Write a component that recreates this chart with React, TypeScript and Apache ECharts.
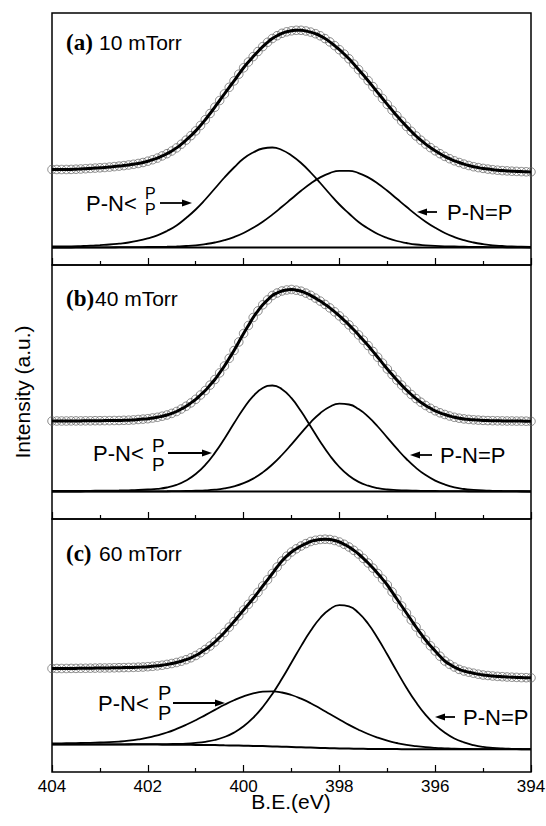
import React, { useEffect, useRef } from "react";
import * as echarts from "echarts";

// Binding energy grids (eV), high to low as plotted
const ENERGY_FINE = Array.from({ length: 101 }, (_, k) => +(404 - k * 0.1).toFixed(1));
const ENERGY = Array.from({ length: 51 }, (_, k) => +(404 - k * 0.2).toFixed(1));
const ENERGY_ENDS = [404, 394];

const X_TICKS = [404, 402, 400, 398, 396, 394];

// Panel (a) 10 mTorr
const ENV_A = [
  78, 78, 78, 78, 78.1, 78.3, 78.5, 78.8, 79.1, 79.4,
  79.7, 80, 80.4, 80.9, 81.4, 81.9, 82.5, 83.2, 84, 85,
  86.3, 87.8, 89.4, 91.6, 93.8, 96.5, 99.6, 103.3, 107.4, 111.8,
  116.6, 122, 127.8, 134, 140.3, 147, 153.6, 160.2, 166.6, 173.3,
  179.7, 185.5, 190.9, 196, 200.9, 205.2, 209, 211.8, 214.2, 215.7,
  216.7, 217.2, 217.2, 216.5, 215.4, 213.8, 211.7, 208.9, 205.6, 201.9,
  197.8, 193.4, 188.7, 183.4, 177.9, 172.4, 166.8, 160.9, 154.9, 149,
  143.1, 137.4, 131.7, 126.3, 121.1, 116.2, 111.5, 107.3, 103.4, 99.9,
  96.7, 93.8, 91.1, 88.8, 86.7, 85, 83.4, 82, 80.8, 79.9,
  79.1, 78.4, 77.8, 77.3, 76.9, 76.6, 76.3, 76.1, 75.9, 75.7,
  75.6,
];
const COMP_A1 = [
  1, 1, 1.1, 1.4, 1.8, 2.4, 3, 3.9, 5, 6.8,
  9.2, 12.2, 16.5, 22, 29.5, 38, 48, 59, 70, 80,
  89, 95, 99, 100, 97.5, 92, 84.5, 75, 64.5, 53.5,
  43, 34, 25.5, 19, 13.5, 9.5, 6.5, 4.5, 3, 2.2,
  1.6, 1.2, 1, 0.8, 0.6, 0.5, 0.4, 0.3, 0.2, 0.1,
  0,
];
const COMP_A2 = [
  0, 0, 0, 0.1, 0.1, 0.2, 0.2, 0.3, 0.4, 0.45,
  0.5, 0.6, 0.8, 1.1, 1.5, 2.2, 3.4, 5, 7.3, 10.4,
  14.5, 19.7, 25.8, 32.9, 40.7, 48.7, 56.7, 64, 70.1, 74.4,
  76.7, 76.7, 74.4, 70.1, 64, 56.7, 48.7, 40.7, 32.9, 25.8,
  19.7, 14.5, 10.4, 7.3, 5, 3.4, 2.2, 1.5, 1, 0.8,
  0.6,
];
const BASE_A = [0, 0];

// Panel (b) 40 mTorr
const ENV_B = [
  70.5, 70.5, 70.5, 70.5, 70.6, 70.6, 70.6, 70.7, 70.7, 70.8,
  70.8, 70.9, 70.9, 71, 71, 71.2, 71.3, 71.6, 72, 72.4,
  72.8, 73.5, 74.2, 75.3, 76.5, 78.1, 80, 82.5, 85.3, 88.6,
  92.2, 96.5, 101, 106.4, 112, 118.6, 125.5, 133.2, 141, 149.5,
  158, 166, 174, 180.6, 186.7, 191.6, 196, 198.5, 200.5, 201.5,
  202, 201.3, 200.3, 198.4, 196.2, 193.4, 190.4, 187.1, 183.6, 179.7,
  175.6, 171.2, 166.6, 161.7, 156.6, 151.3, 145.9, 140.1, 134.3, 128.4,
  122.5, 116.9, 111.5, 106.4, 101.5, 97, 92.9, 89.3, 86, 83.2,
  80.7, 78.7, 77, 75.5, 74.2, 73.3, 72.6, 72.1, 71.7, 71.4,
  71.1, 70.9, 70.8, 70.7, 70.6, 70.5, 70.5, 70.4, 70.4, 70.3,
  70.2,
];
const COMP_B1 = [
  0.5, 0.5, 0.6, 0.6, 0.7, 0.8, 0.9, 1, 1.2, 1.5,
  2, 2.7, 4, 6.6, 11, 17.5, 26.6, 38.6, 52.8, 68.2,
  83, 95.4, 103.5, 106, 102.3, 93.3, 80.2, 65.1, 49.8, 36,
  24.5, 15.8, 9.6, 5.8, 3.4, 2, 1.4, 1, 0.8, 0.6,
  0.5, 0.4, 0.3, 0.3, 0.2, 0.2, 0.1, 0.1, 0.1, 0,
  0,
];
const COMP_B2 = [
  0, 0, 0, 0, 0.1, 0.1, 0.1, 0.1, 0.1, 0.1,
  0.1, 0.2, 0.25, 0.35, 0.5, 0.8, 1.1, 1.8, 3.1, 5.2,
  8.4, 12.9, 19.1, 27, 36.5, 47.2, 58.4, 69.2, 78.3, 84.8,
  87.8, 87, 82.5, 74.9, 65, 53.9, 42.8, 32.5, 23.6, 16.4,
  10.9, 7, 4.2, 2.5, 1.6, 1, 0.7, 0.5, 0.4, 0.3,
  0.2,
];
const BASE_B = [0, 0];

// Panel (c) 60 mTorr
const ENV_C = [
  78.5, 78.5, 78.5, 78.5, 78.6, 78.6, 78.7, 78.7, 78.8, 78.9,
  79, 79, 79.1, 79.2, 79.3, 79.4, 79.5, 79.6, 79.8, 80,
  80.3, 80.7, 81.2, 81.8, 82.6, 83.5, 84.5, 85.8, 87.3, 89.2,
  91.5, 94.3, 97.5, 101, 105, 109.6, 114.5, 119.9, 125.5, 131.2,
  137, 142.7, 148.5, 154.7, 161, 167.2, 173.5, 180, 186, 190.8,
  195, 198.2, 201, 203.4, 205.5, 206.7, 207.5, 207.8, 207.5, 206.5,
  205, 202.7, 200, 196.7, 193, 188.6, 184, 178.9, 173.5, 167.9,
  162, 155.1, 148, 141, 134, 127, 120, 113.4, 107, 101.2,
  96, 90.8, 86, 82.7, 80, 77.6, 76, 74.8, 73.8, 72.8,
  72, 71.5, 71, 70.6, 70.3, 70, 69.8, 69.6, 69.4, 69.3,
  69.2,
];
const COMP_C1 = [
  3.6, 3.7, 3.8, 4, 4.2, 4.5, 4.8, 5.4, 6.3, 7.6,
  9.3, 11.7, 14.5, 18.1, 22.2, 26.8, 31.9, 37.1, 42.2, 46.8,
  50.7, 53.6, 55.3, 55.6, 54.5, 52, 48.3, 43.8, 38.5, 33,
  27.5, 22.1, 17.3, 13, 9.4, 6.4, 4, 2.1, 0.8, -0.2,
  -0.9, -1.35, -1.75, -1.95, -2.05, -2.1, -2.15, -2.2, -2.2, -2.25,
  -2.3,
];
const COMP_C2 = [
  2.65, 2.7, 2.7, 2.7, 2.7, 2.7, 2.65, 2.7, 2.75, 2.8,
  2.8, 2.9, 2.9, 3.1, 3.4, 4.1, 5.2, 7, 10, 14.4,
  20.7, 29.2, 40, 53.1, 68.2, 84.5, 100.9, 116.2, 129, 137.8,
  141.9, 140.6, 134.1, 123.2, 108.8, 92.5, 75.6, 59.3, 44.7, 32.2,
  22.1, 14.3, 8.5, 4.6, 1.9, 0.1, -0.9, -1.5, -1.8, -2,
  -2.1,
];
const BASE_C = [
  2.6, 2.6, 2.6, 2.6, 2.6, 2.6, 2.5, 2.5, 2.5, 2.5,
  2.4, 2.4, 2.3, 2.3, 2.2, 2.1, 2, 1.9, 1.7, 1.5,
  1.3, 1.1, 0.9, 0.6, 0.3, 0, -0.3, -0.6, -0.9, -1.2,
  -1.4, -1.6, -1.8, -1.9, -2, -2.1, -2.1, -2.2, -2.2, -2.2,
  -2.2, -2.2, -2.3, -2.3, -2.3, -2.3, -2.3, -2.3, -2.3, -2.3,
  -2.3,
];

const PANEL_TITLES = ["(a)", "(b)", "(c)"];
const PANEL_PRESSURES = ["10 mTorr", "40 mTorr", "60 mTorr"];

const SANS = '"Liberation Sans", Arial, sans-serif';
const SERIF = '"Liberation Serif", "Times New Roman", serif';

export default function App() {
  const ref = useRef<HTMLDivElement>(null);

  useEffect(() => {
    if (!ref.current) return;
    const chart = echarts.init(ref.current, null, { renderer: "svg" });

    const panels = [
      { env: ENV_A, c1: COMP_A1, c2: COMP_A2, base: BASE_A, baseX: ENERGY_ENDS },
      { env: ENV_B, c1: COMP_B1, c2: COMP_B2, base: BASE_B, baseX: ENERGY_ENDS },
      { env: ENV_C, c1: COMP_C1, c2: COMP_C2, base: BASE_C, baseX: ENERGY },
    ];
    const layout = [
      { top: 13, height: 252, min: -17.5, max: 234.5 },
      { top: 265, height: 254, min: -27.5, max: 226.5 },
      { top: 519, height: 253, min: -25, max: 228 },
    ];

    const grid = layout.map((l) => ({
      left: 52,
      width: 479,
      top: l.top,
      height: l.height,
      containLabel: false,
      outerBoundsMode: "none",
      show: true,
      borderColor: "#000",
      borderWidth: 1.5,
      backgroundColor: "transparent",
    }));

    const xAxis = layout.map((_, i) => ({
      gridIndex: i,
      type: "value",
      min: 394,
      max: 404,
      interval: 2,
      inverse: true,
      position: "bottom",
      axisLine: { show: false, onZero: false },
      axisTick: { show: true, inside: true, length: 7, lineStyle: { color: "#000", width: 1.2 } },
      minorTick: { show: true, splitNumber: 2, length: 4, lineStyle: { color: "#000", width: 1.2 } },
      splitLine: { show: false },
      minorSplitLine: { show: false },
      axisLabel: {
        show: i === 2,
        color: "#000",
        fontSize: 17,
        fontFamily: SANS,
        margin: 6,
        formatter: (v: number) => (X_TICKS.includes(v) ? String(v) : ""),
      },
    }));

    const yAxis = layout.map((l, i) => ({
      gridIndex: i,
      type: "value",
      min: l.min,
      max: l.max,
      show: false,
      axisLine: { onZero: false },
      splitLine: { show: false },
    }));

    const series: any[] = [];
    panels.forEach((p, i) => {
      const envData = ENERGY_FINE.map((e, k) => [e, p.env[k]]);
      series.push({
        type: "scatter",
        xAxisIndex: i,
        yAxisIndex: i,
        data: envData,
        symbol: "circle",
        symbolSize: 8.5,
        itemStyle: { color: "rgba(0,0,0,0)", borderColor: "#5e5e5e", borderWidth: 0.9 },
        z: 2,
        silent: true,
      });
      series.push({
        type: "line",
        xAxisIndex: i,
        yAxisIndex: i,
        data: p.baseX.map((e, k) => [e, p.base[k]]),
        showSymbol: false,
        smooth: true,
        lineStyle: { color: "#000", width: 2 },
        z: 3,
        silent: true,
      });
      [p.c1, p.c2].forEach((c) => {
        series.push({
          type: "line",
          xAxisIndex: i,
          yAxisIndex: i,
          data: ENERGY.map((e, k) => [e, c[k]]),
          showSymbol: false,
          smooth: true,
          lineStyle: { color: "#000", width: 1.8 },
          z: 3,
          silent: true,
        });
      });
      series.push({
        type: "line",
        xAxisIndex: i,
        yAxisIndex: i,
        data: envData,
        showSymbol: false,
        smooth: true,
        lineStyle: { color: "#000", width: 3 },
        z: 4,
        silent: true,
      });
    });

    const txt = (
      text: string,
      x: number,
      y: number,
      font: string,
      align = "left",
      lineHeight?: number
    ) => ({
      type: "text",
      x,
      y,
      silent: true,
      style: {
        text,
        font,
        fill: "#000",
        align,
        textAlign: align,
        verticalAlign: "middle",
        textVerticalAlign: "middle",
        ...(lineHeight ? { lineHeight } : {}),
      },
    });
    const arrow = (x1: number, x2: number, y: number) => {
      const dir = x2 > x1 ? 1 : -1;
      return [
        {
          type: "line",
          silent: true,
          shape: { x1, y1: y, x2: x2 - dir * 6, y2: y },
          style: { stroke: "#000", lineWidth: 1.8 },
        },
        {
          type: "polygon",
          silent: true,
          shape: { points: [[x2, y], [x2 - dir * 10, y - 3.5], [x2 - dir * 10, y + 3.5]] },
          style: { fill: "#000" },
        },
      ];
    };

    const titleY = [42, 298, 553];
    const titleX2 = [99, 95, 99];
    const leftLbl = [
      { x: 86, y: 203, px: 145, pc: 201, lh: 16, pf: 16, a1: 160, a2: 192 },
      { x: 93, y: 453, px: 152, pc: 455, lh: 19, pf: 19, a1: 168, a2: 212 },
      { x: 98, y: 703, px: 158, pc: 703, lh: 20, pf: 20, a1: 173, a2: 225 },
    ];
    const rightLbl = [
      { x: 447, y: 212, a1: 437, a2: 417 },
      { x: 440, y: 455, a1: 432, a2: 410 },
      { x: 463, y: 717, a1: 455, a2: 435 },
    ];

    const graphic: any[] = [];
    PANEL_TITLES.forEach((t, i) => {
      graphic.push(txt(t, 66, titleY[i], `bold 23px ${SERIF}`));
      graphic.push(txt(PANEL_PRESSURES[i], titleX2[i], titleY[i], `21px ${SANS}`));
      const L = leftLbl[i];
      graphic.push(txt("P-N<", L.x, L.y, `22px ${SANS}`));
      graphic.push(txt("P\nP", L.px, L.pc, `${L.pf}px ${SANS}`, "left", L.lh));
      graphic.push(...arrow(L.a1, L.a2, L.y));
      const R = rightLbl[i];
      graphic.push(txt("P-N=P", R.x, R.y, `22px ${SANS}`));
      graphic.push(...arrow(R.a1, R.a2, R.y));
    });
    graphic.push(txt("B.E.(eV)", 291, 801, `21px ${SANS}`, "center"));
    graphic.push({
      type: "text",
      x: 22,
      y: 392,
      rotation: Math.PI / 2,
      silent: true,
      style: {
        text: "Intensity (a.u.)",
        font: `21px ${SANS}`,
        fill: "#000",
        align: "center",
        textAlign: "center",
        verticalAlign: "middle",
        textVerticalAlign: "middle",
      },
    });

    chart.setOption({
      animation: false,
      backgroundColor: "#fff",
      grid,
      xAxis,
      yAxis,
      series,
      graphic,
    });

    return () => chart.dispose();
  }, []);

  return (
    <div
      ref={ref}
      style={{ position: "absolute", left: 0, top: 0, width: 546, height: 826 }}
    />
  );
}
